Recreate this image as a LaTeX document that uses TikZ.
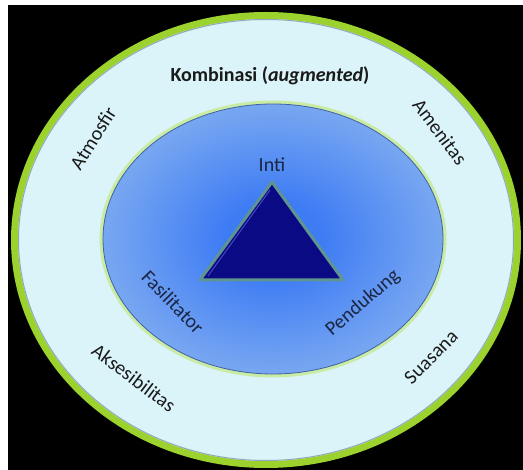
\documentclass[tikz,border=0pt]{standalone}
\usepackage{fontspec}
\setmainfont{Carlito}
\usepackage{tikz}

\definecolor{ringgreen}{HTML}{9BD22E}
\definecolor{palecyan}{HTML}{DAF4FA}
\definecolor{rimgray}{HTML}{8FA9B6}
\definecolor{glowgreen}{HTML}{C9EBA3}
\definecolor{rimblue}{HTML}{3F62A6}
\definecolor{centerblue}{HTML}{3E7CF4}
\definecolor{edgeblue}{HTML}{78A7F1}
\definecolor{navyfill}{HTML}{0A0A84}
\definecolor{triedge}{HTML}{5F9590}
\definecolor{trishine}{HTML}{4646C0}
\definecolor{labelgray}{HTML}{1A1A1A}
\definecolor{labelnavy}{HTML}{1B2642}

\pgfdeclareradialshading{coreglow}{\pgfpoint{0bp}{0bp}}{%
  color(0bp)=(centerblue); color(7bp)=(centerblue);
  color(25bp)=(edgeblue); color(50bp)=(edgeblue)}

\begin{document}
\begin{tikzpicture}[x=1pt, y=-1pt,
	outerlabel/.style={font=\fontsize{20}{24}\selectfont, text=labelgray, inner sep=0pt},
	innerlabel/.style={font=\fontsize{20}{24}\selectfont, text=labelnavy, inner sep=0pt}]

	% Background with the white strips at top and left
	\fill [white] (0,0) rectangle (523,470);
	\fill [black] (8,5) rectangle (523,470);
	\useasboundingbox (0,0) rectangle (523,470);

	% Outer ring
	\fill [ringgreen] (266,240) ellipse [x radius=255, y radius=228];
	\fill [palecyan] (266,240) ellipse [x radius=248, y radius=221];
	\draw [rimgray, line width=1pt] (266,240) ellipse [x radius=247.5, y radius=220.5];

	% Inner ellipse
	\draw [glowgreen, line width=5pt] (273,239) ellipse [x radius=171, y radius=136];
	\shade [shading=coreglow] (273,239) ellipse [x radius=170, y radius=135];
	\draw [rimblue, line width=0.8pt] (273,239) ellipse [x radius=170, y radius=135];

	% Triangle
	\draw [triedge, fill=navyfill, line width=3pt, line join=round]
		(272,182) -- (343,280) -- (200,280) -- cycle;
	\draw [trishine, line width=1pt] (270,190) -- (208,276);

	% Labels, outer ring
	\node [outerlabel, font=\fontsize{20}{24}\selectfont\bfseries] (kombinasi) at (270,76)
		{Kombinasi (\textit{augmented})};
	\node [outerlabel, rotate=58]  (atmosfir)  at (93,138)  {Atmosfir};
	\node [outerlabel, rotate=-53] (amenitas)  at (440,132) {Amenitas};
	\node [outerlabel, rotate=-37] (aksesibilitas) at (134,378) {Aksesibilitas};
	\node [outerlabel, rotate=45]  (suasana)   at (431,357) {Suasana};

	% Labels, inner ellipse
	\node [innerlabel] (inti) at (272,165) {Inti};
	\node [innerlabel, rotate=-46] (fasilitator) at (173,302) {Fasilitator};
	\node [innerlabel, rotate=41]  (pendukung)   at (363,303) {Pendukung};

\end{tikzpicture}
\end{document}
